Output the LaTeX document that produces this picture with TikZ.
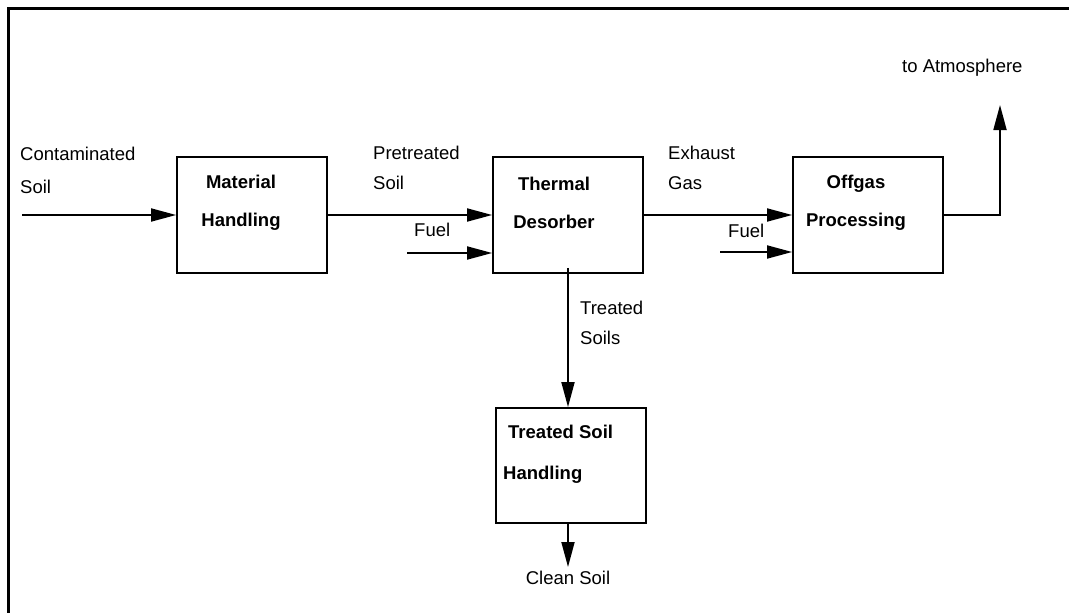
\documentclass[tikz,border=0pt]{standalone}
\usepackage{fontspec}
\setmainfont{Liberation Sans}
\usetikzlibrary{arrows.meta}

\tikzset{
  box/.style={draw,line width=1.8pt,minimum width=150pt,minimum height=116pt,inner sep=0pt},
  lbl/.style={font=\fontsize{18.5}{30}\selectfont,inner sep=0pt,align=left},
  blbl/.style={font=\fontsize{18.5}{38}\selectfont\bfseries,inner sep=0pt},
  flow/.style={line width=1.8pt,-{Triangle[length=25pt,width=13pt]}}
}

\begin{document}
\begin{tikzpicture}[x=1pt,y=-1pt]
\useasboundingbox (0,0) rectangle (1069,613);
\draw[line width=3pt] (8,613) -- (8,8) -- (1069,8);

% process boxes
\node[box] (mh) at (252,215) {};
\node[box] (td) at (568,215) {};
\node[box] (op) at (868,215) {};
\node[box,minimum height=115pt] (tsh) at (571,465.5) {};

\node[blbl,align=center] (mhtxt) at (241,203) {Material\\Handling};
\node[blbl,align=center] (tdtxt) at (554,203) {Thermal\\Desorber};
\node[blbl,align=center] (optxt) at (856,203) {Offgas\\Processing};
\node[blbl,align=left,anchor=west] (tshtxt) at (503,454) {\hspace{5pt}Treated Soil\\[3pt]Handling};

% stream labels
\node[lbl,anchor=west] (contam) at (20,170) {Contaminated\\[3pt]Soil};
\node[lbl,anchor=west] (pretr) at (373,168) {Pretreated\\Soil};
\node[lbl,anchor=west] (exh) at (668,168) {Exhaust\\Gas};
\node[lbl,anchor=west] (trs) at (580,323) {Treated\\Soils};
\node[lbl,anchor=west] (fuel1) at (414,230) {Fuel};
\node[lbl,anchor=west] (fuel2) at (728,231) {Fuel};
\node[lbl,anchor=west] (atmtxt) at (902,68) {to Atmosphere};
\node[lbl] (clean) at (568,578) {Clean Soil};

% streams
\coordinate (cin) at (22,215);
\coordinate (f1) at (407,253);
\coordinate (f2) at (720,252);
\coordinate (atm) at (1000,105);

\draw[flow] (cin) -- (mh.west);
\draw[flow] (mh.east) -- (td.west);
\draw[flow] (f1) -- (f1 -| td.west);
\draw[flow] (td.east) -- (op.west);
\draw[flow] (f2) -- (f2 -| op.west);
\draw[flow] (op.east) -| (atm);
\draw[flow] ([yshift=6pt]td.south) -- (td.south |- tsh.north);
\draw[flow,shorten >=4pt] (tsh.south -| clean) -- (clean.north);
\end{tikzpicture}
\end{document}
